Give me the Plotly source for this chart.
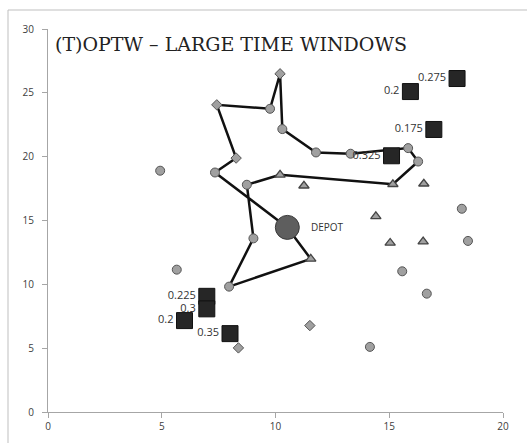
import plotly.graph_objects as go

# Depot
depot_x = [10.52]
depot_y = [14.46]

# Route (tour starting and ending at depot)
route_x = [10.52, 11.55, 7.96, 9.03, 8.74, 10.2, 15.16, 16.27, 15.83, 13.3, 11.78, 10.3, 10.2, 9.76, 7.42, 8.27, 7.34, 10.52]
route_y = [14.46, 11.99, 9.82, 13.6, 17.8, 18.58, 17.84, 19.62, 20.67, 20.23, 20.33, 22.16, 26.49, 23.75, 24.06, 19.89, 18.76, 14.46]

# Customers by marker type
circle_x = [7.96, 9.03, 8.74, 16.27, 15.83, 13.3, 11.78, 10.3, 9.76, 7.34,
            4.93, 5.66, 18.19, 18.46, 15.57, 16.65, 14.15]
circle_y = [9.82, 13.6, 17.8, 19.62, 20.67, 20.23, 20.33, 22.16, 23.75, 18.76,
            18.9, 11.15, 15.92, 13.4, 11.02, 9.27, 5.1]
tri_x = [11.55, 10.2, 15.16, 11.25, 16.52, 14.41, 15.04, 16.49]
tri_y = [11.99, 18.58, 17.84, 17.72, 17.88, 15.32, 13.24, 13.34]
dia_x = [10.2, 7.42, 8.27, 11.51, 8.37]
dia_y = [26.49, 24.06, 19.89, 6.77, 5.02]

# Labelled squares
sq_x = [17.98, 15.93, 16.96, 15.1, 6.98, 6.98, 6.0, 8.0]
sq_y = [26.12, 25.1, 22.13, 20.07, 9.06, 8.08, 7.16, 6.14]
sq_labels = ["0.275", "0.2", "0.175", "0.325", "0.225", "0.3", "0.2", "0.35"]

x_ticks = [0, 5, 10, 15, 20]
y_ticks = [0, 5, 10, 15, 20, 25, 30]

fig = go.Figure()

fig.add_trace(go.Scatter(x=route_x, y=route_y, mode="lines",
                         line=dict(color="#111111", width=2.5), hoverinfo="skip"))
fig.add_trace(go.Scatter(x=circle_x, y=circle_y, mode="markers",
                         marker=dict(symbol="circle", size=9, color="#a0a0a0",
                                     line=dict(color="#555555", width=1))))
fig.add_trace(go.Scatter(x=tri_x, y=tri_y, mode="markers",
                         marker=dict(symbol="triangle-up", size=9, color="#a0a0a0",
                                     line=dict(color="#444444", width=1.3))))
fig.add_trace(go.Scatter(x=dia_x, y=dia_y, mode="markers",
                         marker=dict(symbol="diamond", size=8, color="#a0a0a0",
                                     line=dict(color="#555555", width=1))))
fig.add_trace(go.Scatter(x=depot_x, y=depot_y, mode="markers",
                         marker=dict(symbol="circle", size=24, color="#5e5e5e",
                                     line=dict(color="#3a3a3a", width=1))))
fig.add_trace(go.Scatter(x=sq_x, y=sq_y, mode="markers+text", text=sq_labels,
                         textposition="middle left",
                         textfont=dict(family="Open Sans", size=11, color="#333333"),
                         marker=dict(symbol="square", size=16, color="#262626",
                                     line=dict(color="#111111", width=1))))

axis_common = dict(showgrid=False, zeroline=False, showline=True, linecolor="#a6a6a6",
                   linewidth=1, ticks="outside", ticklen=5, tickcolor="#a6a6a6",
                   automargin=False,
                   tickfont=dict(family="Open Sans", size=10, color="#404040"))

fig.update_layout(
    width=527, height=443,
    margin=dict(l=48, r=24, t=29, b=31),
    paper_bgcolor="white", plot_bgcolor="white",
    showlegend=False,
    xaxis=dict(range=[0, 20], tickvals=x_ticks, **axis_common),
    yaxis=dict(range=[0, 30], tickvals=y_ticks, ticklabelstandoff=6, **axis_common),
    annotations=[
        dict(text="(T)OPTW \u2013 LARGE TIME WINDOWS", xref="paper", yref="paper",
             x=0.01, y=0.995, xanchor="left", yanchor="top", showarrow=False,
             font=dict(family="DejaVu Serif", size=19, color="#222222")),
        dict(text="DEPOT", x=depot_x[0], y=depot_y[0], xanchor="left", yanchor="middle",
             xshift=22, showarrow=False,
             font=dict(family="Open Sans", size=10, color="#333333")),
    ],
    shapes=[dict(type="rect", xref="paper", yref="paper",
                 x0=-40/455, x1=1.2, y0=-0.2, y1=1 + 19/383,
                 line=dict(color="#bfbfbf", width=1), fillcolor="rgba(0,0,0,0)", layer="below")],
)

fig.write_html("out.html")
